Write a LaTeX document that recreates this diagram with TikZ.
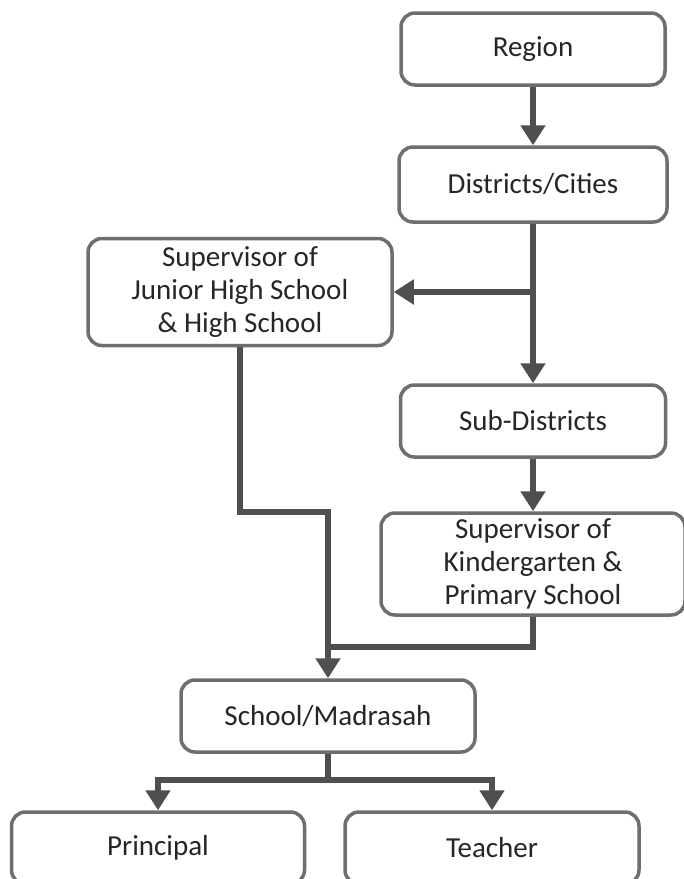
\documentclass[tikz,border=0pt]{standalone}
\usepackage{fontspec}
\setmainfont{Carlito}
\usepackage{tikz}
\usetikzlibrary{arrows.meta}
\definecolor{boxline}{HTML}{6E6E6E}
\definecolor{conline}{HTML}{4F4F4F}
\tikzstyle{process} = [rectangle, rounded corners=14pt, draw=boxline, line width=3.5pt, fill=white, text=black!85, align=center, inner sep=0pt, font=\fontsize{29}{33}\selectfont]
\tikzstyle{line} = [draw=conline, line width=5.5pt]
\tikzstyle{arrow} = [line, -{Triangle[width=24pt,length=20pt]}]

\begin{document}
\begin{tikzpicture}[x=1pt,y=-1pt]
	\useasboundingbox (0,0) rectangle (684,879);
	\node (region) [process, minimum width=264pt, minimum height=72pt] at (533,49) {Region};
	\node (dist) [process, minimum width=268pt, minimum height=75pt] at (533,184.5) {Districts/Cities};
	\node (supjhs) [process, minimum width=304pt, minimum height=107pt] at (240,292) {Supervisor of\\Junior High School\\\& High School};
	\node (subdist) [process, minimum width=265pt, minimum height=72pt] at (533,421) {Sub-Districts};
	\node (supk) [process, minimum width=304pt, minimum height=102pt] at (533,564) {Supervisor of\\Kindergarten \&\\Primary School};
	\node (school) [process, minimum width=294pt, minimum height=72pt] at (328,716) {School/Madrasah};
	\node (princ) [process, minimum width=293pt, minimum height=72pt] at (158,848) {Principal};
	\node (teach) [process, minimum width=294pt, minimum height=72pt] at (492,848) {Teacher};
	\coordinate (split1) at (533,292);
	\coordinate (join1) at (328,512);
	\coordinate (join2) at (328,647);
	\coordinate (split2) at (328,780);
	\draw [arrow] (region) -- (dist);
	\draw [arrow] (dist) -- (subdist);
	\draw [arrow] (split1) -- (supjhs);
	\draw [arrow] (subdist) -- (supk);
	\draw [arrow] (supjhs.south) |- (join1) -- (school);
	\draw [line] (supk.south) |- (join2);
	\draw [line] (school) -- (split2);
	\draw [arrow] (split2) -| (princ);
	\draw [arrow] (split2) -| (teach);
\end{tikzpicture}
\end{document}
